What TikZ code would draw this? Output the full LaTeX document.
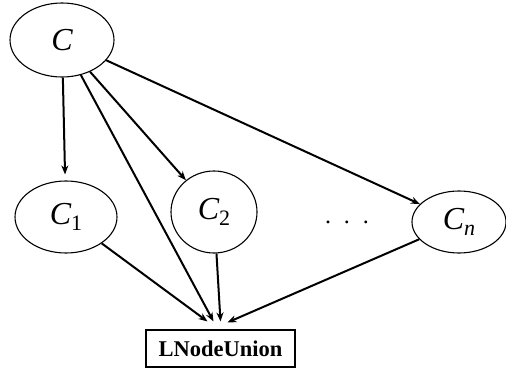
\documentclass[tikz,border=0pt]{standalone}
\usepackage{fontspec}
\setmainfont{Liberation Serif}
\usetikzlibrary{shapes.geometric,arrows.meta,calc}

\tikzset{
  cls/.style={draw, ellipse, line width=1.1pt, inner sep=0pt,
              font=\fontsize{32}{32}\selectfont\itshape},
  unionbox/.style={draw, rectangle, line width=1.1pt, inner sep=0pt,
                   minimum width=149pt, minimum height=37pt,
                   font=\fontsize{22.5}{22.5}\selectfont\bfseries},
  link/.style={line width=2pt, -{Stealth[length=9pt,width=7pt]}},
}
\newcommand{\clsub}[1]{C\raisebox{-6pt}{\fontsize{22}{22}\selectfont #1}}

\begin{document}
\begin{tikzpicture}[x=1pt, y=-1pt]
  \useasboundingbox (0,0) rectangle (506,369);

  % class nodes
  \node[cls, minimum width=104pt, minimum height=74pt] (c)  at (62,40)   {C};
  \node[cls, minimum width=102pt, minimum height=72pt] (c1) at (66,217)  {\clsub{\upshape 1}};
  \node[cls, minimum width=86pt,  minimum height=82pt] (c2) at (214,212) {\clsub{\upshape 2}};
  \node[cls, minimum width=94pt,  minimum height=62pt] (cn) at (459,222) {\clsub{n}};
  \node[font=\fontsize{24}{24}\selectfont] (dots) at (347,222) {.\hspace{13pt}.\hspace{13pt}.};

  % union node
  \node[unionbox] (lnu) at (220.5,348.5) {LNodeUnion};

  % arrow end points just above the union box
  \coordinate (t0) at ($(lnu.north)+(-7,-8)$);
  \coordinate (t1) at ($(lnu.north)+(-13,-8)$);
  \coordinate (t2) at ($(lnu.north)+(0,-8)$);
  \coordinate (t3) at ($(lnu.north)+(7,-7)$);

  % connectors
  \draw[link, shorten >=6pt] (c) -- (c1);
  \draw[link] (c) -- (t0);
  \draw[link] (c) -- (c2);
  \draw[link] (c) -- (cn);
  \draw[link] (c1) -- (t1);
  \draw[link] (c2) -- (t2);
  \draw[link] (cn) -- (t3);
\end{tikzpicture}
\end{document}
